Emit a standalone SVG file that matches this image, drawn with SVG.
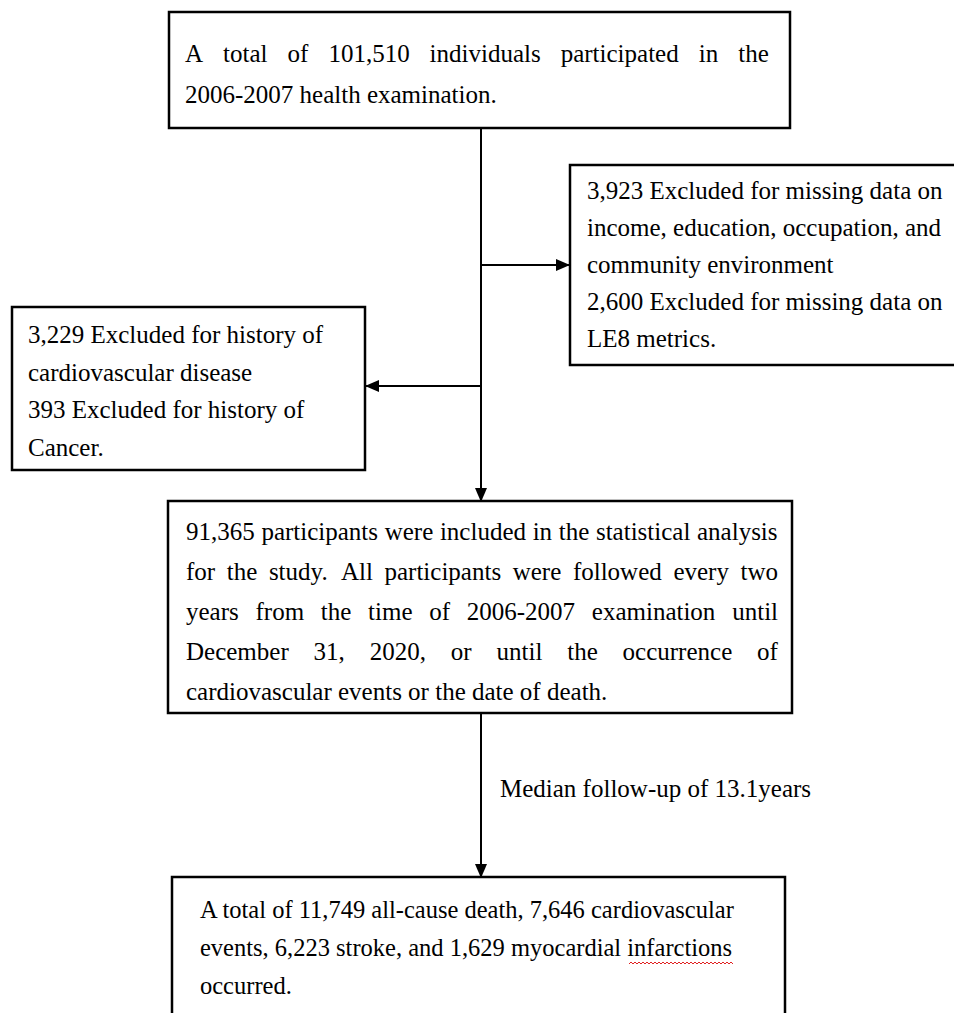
<svg xmlns="http://www.w3.org/2000/svg" width="954" height="1013" viewBox="0 0 954 1013">
<style>
.box{fill:#fff;stroke:#000;stroke-width:2.5}
.t{font-family:"Liberation Serif","Times New Roman",serif;font-size:25px;fill:#000}
.s{font-size:24.5px}
.ln{stroke:#000;stroke-width:2;fill:none}
</style>
<defs>
<marker id="ah" markerWidth="14" markerHeight="12" refX="13" refY="6" orient="auto" markerUnits="userSpaceOnUse">
<path d="M0,0 L14,6 L0,12 Z" fill="#000"/>
</marker>
</defs>
<rect width="954" height="1013" fill="#fff"/>
<g id="connectors">
<line class="ln" x1="481" y1="129" x2="481" y2="501" marker-end="url(#ah)"/>
<line class="ln" x1="481" y1="265" x2="569" y2="265" marker-end="url(#ah)"/>
<line class="ln" x1="481" y1="386" x2="366" y2="386" marker-end="url(#ah)"/>
<line class="ln" x1="481" y1="713" x2="481" y2="877" marker-end="url(#ah)"/>
<text class="t" x="500" y="797">Median follow-up of 13.1years</text>
</g>
<g id="n1">
<rect class="box" x="169" y="12" width="621" height="116"/>
<text class="t" y="62"><tspan x="185">A</tspan><tspan x="223.1">total</tspan><tspan x="287.5">of</tspan><tspan x="328.4">101,510</tspan><tspan x="429.6">individuals</tspan><tspan x="560.7">participated</tspan><tspan x="698.7">in</tspan><tspan x="738.2">the</tspan></text>
<text class="t" x="185" y="103">2006-2007 health examination.</text>
</g>
<g id="n2">
<rect class="box" x="570" y="165" width="400" height="200"/>
<text class="t" x="587" y="199">3,923 Excluded for missing data on</text>
<text class="t" x="587" y="236">income, education, occupation, and</text>
<text class="t" x="587" y="273">community environment</text>
<text class="t" x="587" y="310">2,600 Excluded for missing data on</text>
<text class="t" x="587" y="347">LE8 metrics.</text>
</g>
<g id="n3">
<rect class="box" x="12" y="307" width="353" height="163"/>
<text class="t" x="28" y="343">3,229 Excluded for history of</text>
<text class="t" x="28" y="380.5">cardiovascular disease</text>
<text class="t" x="28" y="418">393 Excluded for history of</text>
<text class="t" x="28" y="455.5">Cancer.</text>
</g>
<g id="n4">
<rect class="box" x="168" y="501" width="624" height="212"/>
<text class="t" x="186" y="540" word-spacing="0.4">91,365 participants were included in the statistical analysis</text>
<text class="t" y="580"><tspan x="186">for</tspan><tspan x="226.8">the</tspan><tspan x="268.9">study.</tspan><tspan x="340.9">All</tspan><tspan x="384.5">participants</tspan><tspan x="512.7">were</tspan><tspan x="572.9">followed</tspan><tspan x="673.4">every</tspan><tspan x="740.5">two</tspan></text>
<text class="t" y="620"><tspan x="186">years</tspan><tspan x="255.5">from</tspan><tspan x="320.8">the</tspan><tspan x="368.1">time</tspan><tspan x="429.2">of</tspan><tspan x="466.8">2006-2007</tspan><tspan x="591.8">examination</tspan><tspan x="732.2">until</tspan></text>
<text class="t" y="660"><tspan x="186">December</tspan><tspan x="313.6">31,</tspan><tspan x="369.7">2020,</tspan><tspan x="450.8">or</tspan><tspan x="496.5">until</tspan><tspan x="567.2">the</tspan><tspan x="622.6">occurrence</tspan><tspan x="757.1">of</tspan></text>
<text class="t" x="186" y="700">cardiovascular events or the date of death.</text>
</g>
<g id="n5">
<rect class="box" x="172" y="877" width="613" height="160"/>
<text class="t s" x="200" y="918">A total of 11,749 all-cause death, 7,646 cardiovascular</text>
<text class="t s" x="200" y="956">events, 6,223 stroke, and 1,629 myocardial infarctions</text>
<text class="t s" x="200" y="994">occurred.</text>
<path d="M629,964 l2,-2 l2,2 l2,-2 l2,2 l2,-2 l2,2 l2,-2 l2,2 l2,-2 l2,2 l2,-2 l2,2 l2,-2 l2,2 l2,-2 l2,2 l2,-2 l2,2 l2,-2 l2,2 l2,-2 l2,2 l2,-2 l2,2 l2,-2 l2,2 l2,-2 l2,2 l2,-2 l2,2 l2,-2 l2,2 l2,-2 l2,2 l2,-2 l2,2 l2,-2 l2,2 l2,-2 l2,2 l2,-2 l2,2 l2,-2 l2,2 l2,-2 l2,2 l2,-2 l2,2 l2,-2 l2,2 l2,-2 l2,2" fill="none" stroke="#e02020" stroke-width="1"/>
</g>
</svg>
